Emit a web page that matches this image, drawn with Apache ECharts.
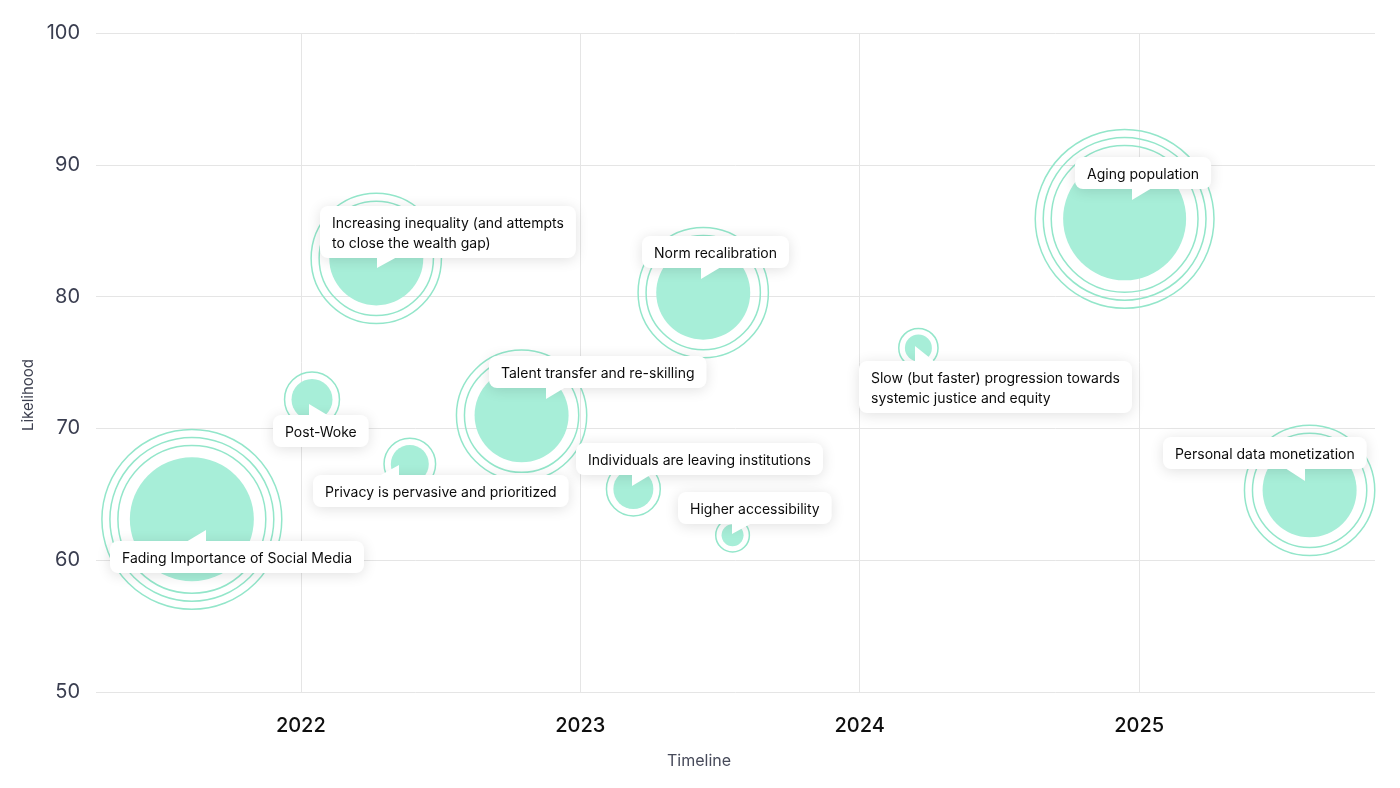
<!DOCTYPE html>
<html>
<head>
<meta charset="utf-8">
<script src="https://cdn.jsdelivr.net/npm/echarts@6/dist/echarts.min.js"></script>
<style>
html,body{margin:0;padding:0;background:#fff;}
#chart{width:1400px;height:788px;}
</style>
</head>
<body>
<div id="chart"></div>
<script>
// ---------------- DATA ----------------
const topics = [
  'Fading Importance of Social Media',
  'Post-Woke',
  'Increasing inequality (and attempts\nto close the wealth gap)',
  'Privacy is pervasive and prioritized',
  'Talent transfer and re-skilling',
  'Individuals are leaving institutions',
  'Higher accessibility',
  'Norm recalibration',
  'Slow (but faster) progression towards\nsystemic justice and equity',
  'Aging population',
  'Personal data monetization'
];
const timeline   = [2021.61, 2022.04, 2022.27, 2022.39, 2022.79, 2023.19, 2023.545, 2023.44, 2024.21, 2024.948, 2025.61];
const likelihood = [63.1, 72.2, 82.9, 67.3, 71.0, 65.4, 61.9, 80.3, 76.1, 85.9, 65.3];
const impact     = [62, 20.5, 47, 19, 47, 20, 11, 47, 13.5, 61.5, 47];
const ringCount  = [3, 1, 2, 1, 2, 1, 1, 2, 1, 3, 2];
const yearTicks  = [2022, 2023, 2024, 2025];

// ---------------- STYLE / LAYOUT ----------------
const FILL = '#a7eed8';
const RING = '#93e6ca';
const FONT_FAMILY = 'Inter';
// callout box placement relative to bubble centre (pixels), tail settings
const calloutLayout = [
  {dx:-82,  dy:22,  tail:'up',   edge:'r', tx:96,  th:12},
  {dx:-39,  dy:16,  tail:'up',   edge:'l', tx:36,  th:12},
  {dx:-56,  dy:-52, tail:'down', edge:'l', tx:57,  th:11},
  {dx:-97,  dy:11,  tail:'up',   edge:'r', tx:86,  th:11},
  {dx:-33,  dy:-59, tail:'down', edge:'l', tx:57,  th:12},
  {dx:-57,  dy:-46, tail:'down', edge:'l', tx:56,  th:12},
  {dx:-55,  dy:-43, tail:'down', edge:'l', tx:54,  th:11},
  {dx:-61,  dy:-57, tail:'down', edge:'l', tx:59,  th:12},
  {dx:-59,  dy:13,  tail:'up',   edge:'l', tx:56,  th:16},
  {dx:-50,  dy:-62, tail:'down', edge:'l', tx:57,  th:12},
  {dx:-147, dy:-53, tail:'down', edge:'r', tx:142, th:13}
];

const measureCtx = document.createElement('canvas').getContext('2d');
measureCtx.font = '14px ' + FONT_FAMILY;
function textWidth(s){ return measureCtx.measureText(s).width; }

const points = timeline.map((t, i) => [t, likelihood[i], impact[i]]);

function ringSeries(k){
  return {
    type: 'scatter',
    z: 1,
    silent: true,
    emphasis: {disabled: true},
    data: points.filter((p, i) => ringCount[i] > k),
    symbol: 'circle',
    symbolSize: function(v){ const r = v[2]; return 2 * (r * 1.12 + 4.5 + 8 * k); },
    itemStyle: {color: 'rgba(0,0,0,0)', borderColor: RING, borderWidth: 1.5, opacity: 1}
  };
}

const chart = echarts.init(document.getElementById('chart'), null, {renderer: 'canvas'});
chart.setOption({
  animation: false,
  backgroundColor: '#ffffff',
  grid: {left: 96, right: 25, top: 33, bottom: 96, outerBoundsMode: 'none'},
  xAxis: {
    type: 'value',
    min: 2021.267,
    max: 2025.844,
    name: 'Timeline',
    nameLocation: 'middle',
    nameGap: 61,
    nameTextStyle: {fontFamily: FONT_FAMILY, fontSize: 16, color: '#474a5a', padding: [0, 73, 0, 0]},
    axisLine: {show: false},
    axisTick: {show: false, customValues: yearTicks},
    axisLabel: {
      customValues: yearTicks,
      fontFamily: FONT_FAMILY, fontSize: 20, fontWeight: 500, color: '#0f0f0f', margin: 24,
      formatter: v => String(Math.round(v))
    },
    splitLine: {show: true, lineStyle: {color: '#e5e5e5', width: 1}}
  },
  yAxis: {
    type: 'value',
    min: 50, max: 100, interval: 10,
    name: 'Likelihood',
    nameLocation: 'middle',
    nameGap: 58,
    nameTextStyle: {fontFamily: FONT_FAMILY, fontSize: 15, color: '#3d4050', padding: [0, 65, 0, 0]},
    axisLine: {show: false},
    axisTick: {show: false},
    axisLabel: {fontFamily: FONT_FAMILY, fontSize: 20, color: '#3a3e50', margin: 16},
    splitLine: {show: true, lineStyle: {color: '#e5e5e5', width: 1}}
  },
  series: [
    ringSeries(0), ringSeries(1), ringSeries(2),
    {
      type: 'scatter',
      z: 2,
      silent: true,
      emphasis: {disabled: true},
      data: points,
      symbol: 'circle',
      symbolSize: v => v[2] * 2,
      itemStyle: {color: FILL, opacity: 1}
    },
    {
      type: 'custom',
      z: 10,
      silent: true,
      clip: false,
      data: points,
      encode: {x: 0, y: 1},
      renderItem: function(params, api){
        const i = params.dataIndex;
        const c = api.coord([api.value(0), api.value(1)]);
        const L = calloutLayout[i];
        const text = topics[i];
        const lines = text.split('\n');
        const w = Math.max.apply(null, lines.map(textWidth)) + 24;
        const h = lines.length * 20 + 12;
        const x0 = Math.round(c[0] + L.dx), y0 = Math.round(c[1] + L.dy);
        const tw = 20;
        let pts;
        const ax = x0 + L.tx;
        if (L.tail === 'down') {
          const by = y0 + h - 1;
          pts = L.edge === 'l' ? [[ax, by], [ax + tw, by], [ax, by + L.th]]
                               : [[ax - tw, by], [ax, by], [ax, by + L.th]];
        } else {
          const by = y0 + 1;
          pts = L.edge === 'l' ? [[ax, by], [ax + tw, by], [ax, by - L.th]]
                               : [[ax - tw, by], [ax, by], [ax, by - L.th]];
        }
        return {
          type: 'group',
          children: [
            {type: 'rect', shape: {x: x0, y: y0, width: w, height: h, r: 8},
             style: {fill: '#ffffff', shadowBlur: 14, shadowColor: 'rgba(0,0,0,0.12)', shadowOffsetY: 2}},
            {type: 'polygon', shape: {points: pts}, style: {fill: '#ffffff'}},
            {type: 'text', x: x0 + 12, y: y0 + 8,
             style: {text: text, fontFamily: FONT_FAMILY, fontSize: 14, fill: '#0c0c0c',
                     lineHeight: 20, align: 'left', verticalAlign: 'top'}}
          ]
        };
      }
    }
  ]
});
</script>
</body>
</html>
